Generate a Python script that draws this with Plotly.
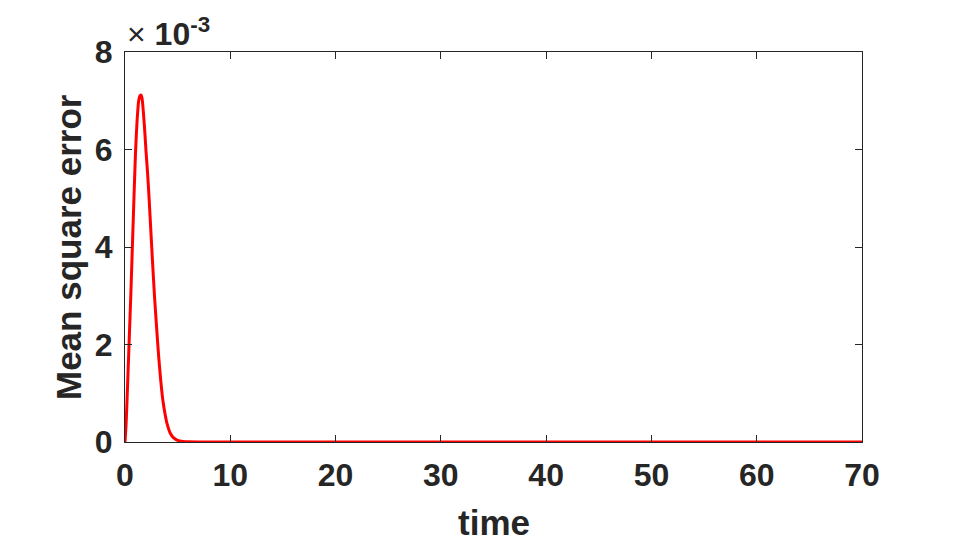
import plotly.graph_objects as go

# time values
time = [0, 0.1, 0.2, 0.3, 0.4, 0.55, 0.7, 0.85, 1.0, 1.15, 1.3, 1.42, 1.52, 1.62, 1.75,
        1.9, 2.0, 2.15, 2.3, 2.45, 2.6, 2.8, 3.0, 3.2, 3.4, 3.6, 3.8, 4.0, 4.3, 4.6,
        5.0, 5.5, 6.0, 7.0, 10, 20, 30, 40, 50, 60, 70]
# mean square error, in units of 1e-3
mse_e3 = [0, 0.35, 0.9, 1.5, 2.1, 3.0, 4.0, 5.0, 5.95, 6.6, 7.0, 7.1, 7.12, 7.05, 6.75,
          6.3, 5.95, 5.5, 4.95, 4.35, 3.75, 3.0, 2.35, 1.75, 1.25, 0.85, 0.58, 0.37, 0.18, 0.09,
          0.035, 0.012, 0.004, 0.001, 0, 0, 0, 0, 0, 0, 0]

x_ticks = [0, 10, 20, 30, 40, 50, 60, 70]
y_ticks = [0, 2, 4, 6, 8]

txt = "#262626"
fam = "Liberation Sans, Arial, sans-serif"

fig = go.Figure()
fig.add_trace(go.Scatter(x=time, y=mse_e3, mode="lines",
                         line=dict(color="#ff0000", width=3, shape="spline", smoothing=0.6),
                         showlegend=False))

axis_common = dict(showgrid=False, zeroline=False, showline=True, linecolor=txt, linewidth=1,
                   mirror="ticks", ticks="inside", ticklen=7, tickcolor=txt, tickwidth=1,
                   automargin=False, ticklabelstandoff=5,
                   tickfont=dict(family=fam, size=32, color=txt, weight="bold"))

fig.update_layout(
    width=947, height=534,
    margin=dict(l=117, r=93, t=44, b=100),
    paper_bgcolor="white", plot_bgcolor="white",
    xaxis=dict(range=[0, 70], tickvals=x_ticks, ticktext=[str(v) for v in x_ticks],
               **axis_common),
    yaxis=dict(range=[0, 8], tickvals=y_ticks, ticktext=[str(v) for v in y_ticks],
               **axis_common),
)

fig.add_annotation(xref="paper", yref="paper", x=0.5, y=0, xanchor="center", yanchor="middle",
                   yshift=-80, showarrow=False, text="<b>time</b>",
                   font=dict(family=fam, size=35, color=txt))
fig.add_annotation(xref="paper", yref="paper", x=0, y=0.5, xanchor="center", yanchor="middle",
                   xshift=-57, textangle=-90, showarrow=False, text="<b>Mean square error</b>",
                   font=dict(family=fam, size=35, color=txt))
fig.add_annotation(xref="paper", yref="paper", x=0, y=1, xanchor="left", yanchor="bottom",
                   xshift=0, yshift=-2, showarrow=False,
                   text="× <b>10<sup>-3</sup></b>",
                   font=dict(family=fam, size=32, color=txt))

fig.write_html("out.html")
